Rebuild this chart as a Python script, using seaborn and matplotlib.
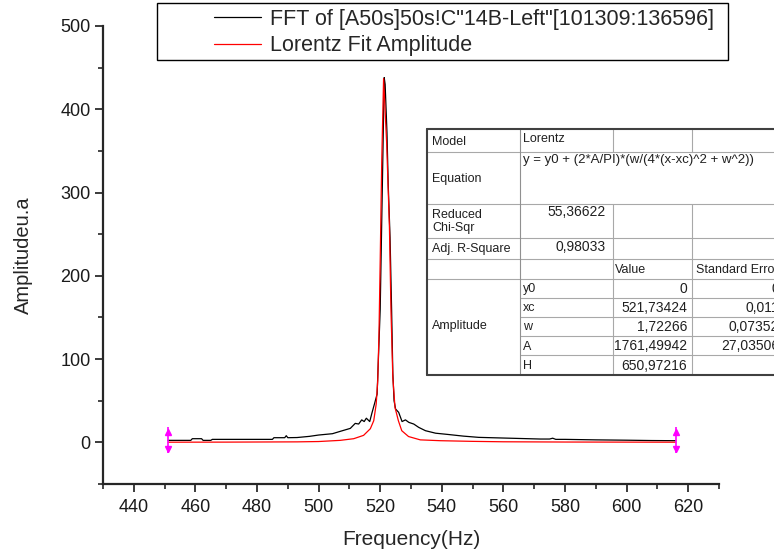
import numpy as np
import pandas as pd
import seaborn as sns
import matplotlib.pyplot as plt
from matplotlib.lines import Line2D
from matplotlib.patches import Rectangle

# FFT spectrum (black)
fft_freq = [451.1, 458.5, 459.0, 462.0, 462.5, 465.0, 465.5, 485.0, 485.5, 489.0,
            489.5, 490.0, 493.0, 497.0, 500.0, 504.5, 507.0, 510.3, 511.9, 513.0,
            514.0, 514.8, 515.5, 516.6, 517.3, 518.2, 519.0, 520.0, 520.8, 521.3,
            521.6, 522.2, 522.6, 523.2, 523.7, 524.1, 524.5, 525.0, 526.0, 527.1,
            528.2, 529.3, 530.9, 532.5, 534.7, 538.0, 542.0, 547.0, 552.0, 562.0,
            572.0, 575.0, 576.0, 577.0, 580.0, 590.0, 600.0, 608.0, 616.0]
fft_amp = [2.4, 2.4, 4.4, 4.4, 2.4, 2.4, 3.6, 3.6, 5.6, 5.6,
           8.0, 5.6, 5.8, 7.2, 8.8, 10.4, 13.2, 16.8, 22.8, 22.0,
           27.0, 25.0, 29.0, 25.0, 35.0, 47.0, 58.0, 160.0, 330.0, 438.0,
           430.0, 372.0, 310.0, 246.0, 160.0, 83.0, 50.0, 40.0, 36.0, 25.0,
           27.0, 24.0, 22.0, 18.0, 14.0, 11.0, 9.5, 7.5, 6.0, 5.0,
           4.0, 4.0, 5.0, 3.6, 3.6, 3.0, 2.6, 2.2, 2.0]

# Lorentz fit (red)
fit_freq = [451.1, 470.0, 493.0, 500.0, 507.0, 511.4, 514.6, 516.8, 517.9, 518.7,
            519.2, 519.6, 520.0, 520.5, 521.1, 522.1, 523.0, 523.5, 524.1, 524.8,
            525.9, 527.0, 529.2, 533.0, 539.5, 550.0, 560.0, 580.0, 616.0]
fit_amp = [0.2, 0.3, 0.6, 1.0, 2.4, 4.4, 8.4, 16.4, 26.0, 46.0,
           74.0, 130.0, 218.0, 338.0, 437.0, 359.0, 258.0, 158.0, 78.0, 42.0,
           26.0, 14.0, 7.0, 3.0, 2.0, 1.2, 0.7, 0.4, 0.2]

range_ends = [451.1, 616.0]
range_span = [-13, 18]

x_ticks = [440, 460, 480, 500, 520, 540, 560, 580, 600, 620]
y_ticks = [0, 100, 200, 300, 400, 500]

fft_label = 'FFT of [A50s]50s!C"14B-Left"[101309:136596]'
fit_label = 'Lorentz Fit Amplitude'

# fit report table
param_names = ['y0', 'xc', 'w', 'A', 'H']
param_values = ['0', '521,73424', '1,72266', '1761,49942', '650,97216']
param_errors = ['0', '0,011', '0,07352', '27,03506', '']
model_name = 'Lorentz'
equation = 'y = y0 + (2*A/PI)*(w/(4*(x-xc)^2 + w^2))'
chi_sqr = '55,36622'
adj_r2 = '0,98033'

sns.set_style("ticks")
plt.rcParams['font.family'] = ['Liberation Sans', 'DejaVu Sans']

W, H = 774, 555
fig = plt.figure(figsize=(W / 100, H / 100), dpi=100)
ax = fig.add_axes([103 / W, 1 - 484 / H, 616 / W, 458 / H])

df_fft = pd.DataFrame({'Frequency': fft_freq, 'Amplitude': fft_amp})
df_fit = pd.DataFrame({'Frequency': fit_freq, 'Amplitude': fit_amp})
sns.lineplot(data=df_fft, x='Frequency', y='Amplitude', color='black', lw=0.9, ax=ax, label=fft_label)
sns.lineplot(data=df_fit, x='Frequency', y='Amplitude', color='#ff0000', lw=0.9, ax=ax, label=fit_label)

# data range markers
ax.vlines(range_ends, range_span[0], range_span[1], color='#ff00ff', lw=1.2, zorder=5)
ax.plot(range_ends, [range_span[1] - 5] * 2, ls='none', marker='^', ms=4, color='#ff00ff', zorder=5)
ax.plot(range_ends, [range_span[0] + 5] * 2, ls='none', marker='v', ms=4, color='#ff00ff', zorder=5)

ax.set_xlim(430, 630)
ax.set_ylim(-50, 500)
ax.set_xticks(x_ticks)
ax.set_yticks(y_ticks)
ax.set_xticks(np.arange(430, 631, 20), minor=True)
ax.set_yticks(np.arange(-50, 501, 100), minor=True)
sns.despine(ax=ax)
for s in ['left', 'bottom']:
    ax.spines[s].set_linewidth(1.6)
ax.tick_params(which='major', length=6, width=1.2, labelsize=13, colors='#1a1a1a', pad=3)
ax.tick_params(axis='x', which='major', pad=5)
ax.tick_params(which='minor', length=3.5, width=1.2)
ax.set_xlabel('Frequency(Hz)', fontsize=15, labelpad=10)
ax.set_ylabel('Amplitudeu.a', fontsize=14.5, labelpad=20)

# legend with its own box
handles, labels = ax.get_legend_handles_labels()
ax.get_legend().remove()
leg = fig.legend(handles, labels, loc='upper left', bbox_to_anchor=(214 / W, 1 - 9 / H),
                 frameon=False, fontsize=15.5, borderpad=0, borderaxespad=0,
                 handlelength=2.2, handletextpad=0.42, labelspacing=0.25)
fig.add_artist(Rectangle((157 / W, 1 - 60 / H), 571 / W, 57 / H, transform=fig.transFigure,
                         fill=False, edgecolor='black', lw=1.0))


def fx(x):
    return x / W


def fy(y):
    return 1 - y / H


def hline(y, x0, x1, color='#a8a8a8', lw=0.8):
    fig.add_artist(Line2D([fx(x0), fx(x1)], [fy(y), fy(y)], transform=fig.transFigure,
                          color=color, lw=lw, zorder=11))


def vline(x, y0, y1, color='#a8a8a8', lw=0.8):
    fig.add_artist(Line2D([fx(x), fx(x)], [fy(y0), fy(y1)], transform=fig.transFigure,
                          color=color, lw=lw, zorder=11))


def cell_text(x, y, s, ha='left', size=9):
    fig.text(fx(x), fy(y), s, ha=ha, va='center', fontsize=size, color='#202020', zorder=12)


cols = [427, 520, 612.5, 692, 800]
rows = [129, 152, 203.5, 237.5, 259, 278.5, 297.5, 316.5, 336, 355, 374.5]

fig.add_artist(Rectangle((fx(cols[0]), fy(rows[-1])), fx(cols[-1]) - fx(cols[0]),
                         fy(rows[0]) - fy(rows[-1]), transform=fig.transFigure,
                         facecolor='white', edgecolor='none', zorder=10))
for r in rows[1:6]:
    hline(r, cols[0], cols[-1])
for r in rows[6:10]:
    hline(r, cols[1], cols[-1])
vline(cols[1], rows[0], rows[-1], color='#909090')
for c in cols[2:4]:
    vline(c, rows[0], rows[1])
    vline(c, rows[2], rows[-1])
hline(rows[0], cols[0], cols[-1], color='#404040', lw=1.5)
hline(rows[-1], cols[0], cols[-1], color='#404040', lw=1.5)
vline(cols[0], rows[0], rows[-1], color='#404040', lw=1.5)


def mid(i):
    return (rows[i] + rows[i + 1]) / 2 + 1


num = 10
cell_text(432, mid(0), 'Model')
cell_text(523, mid(0) - 2, model_name)
cell_text(432, mid(1), 'Equation')
cell_text(523, rows[1] + 8, equation, size=9.5)
fig.text(fx(432), fy(mid(2)), 'Reduced\nChi-Sqr', ha='left', va='center', fontsize=9,
         color='#202020', linespacing=1.1, zorder=12)
cell_text(606, rows[2] + 9, chi_sqr, ha='right', size=num)
cell_text(432, mid(3), 'Adj. R-Square')
cell_text(606, mid(3) - 2, adj_r2, ha='right', size=num)
cell_text(615, mid(4), 'Value')
cell_text(696, mid(4), 'Standard Error')
cell_text(432, (rows[5] + rows[-1]) / 2, 'Amplitude')
for i, (n, v, e) in enumerate(zip(param_names, param_values, param_errors)):
    cell_text(523, mid(5 + i), n)
    cell_text(687, mid(5 + i), v, ha='right', size=num)
    cell_text(779, mid(5 + i), e, ha='right', size=num)

fig.savefig('out.png', dpi=100)
plt.close(fig)
